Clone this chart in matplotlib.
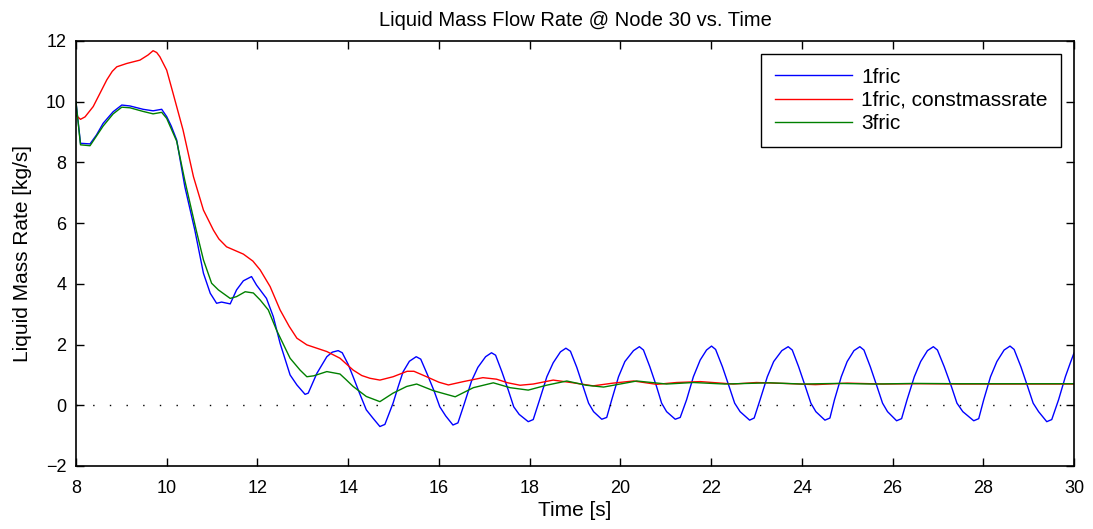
import matplotlib
matplotlib.use('Agg')
import matplotlib.pyplot as plt

plt.rcParams['font.family'] = ['Liberation Sans', 'DejaVu Sans']

# 1fric
t_blue = [8.0, 8.1, 8.31, 8.45, 8.6, 8.82, 9.01, 9.19, 9.48, 9.70, 9.89, 10.0, 10.1, 10.22, 10.4,
          10.62, 10.81, 10.96, 11.1, 11.21, 11.4, 11.54, 11.69, 11.87, 11.98, 12.2, 12.35, 12.5,
          12.72, 12.87, 13.05, 13.12, 13.31, 13.53, 13.65, 13.78, 13.87, 14.0, 14.11, 14.25, 14.4,
          14.55, 14.7, 14.81, 14.99, 15.1, 15.21, 15.35, 15.5, 15.6, 15.75, 15.9, 16.02, 16.15,
          16.31, 16.42, 16.56, 16.72, 16.86, 17.03, 17.16, 17.25, 17.39, 17.53, 17.65, 17.77,
          17.97, 18.08, 18.22, 18.38, 18.52, 18.68, 18.80, 18.90, 19.04, 19.18, 19.30, 19.41,
          19.59, 19.70, 19.81, 19.96, 20.10, 20.29, 20.42, 20.51, 20.65, 20.80, 20.91, 21.02,
          21.21, 21.32, 21.46, 21.61, 21.76, 21.90, 22.01, 22.10, 22.25, 22.40, 22.52, 22.64,
          22.85, 22.95, 23.08, 23.24, 23.38, 23.56, 23.70, 23.79, 23.93, 24.08, 24.20, 24.31,
          24.51, 24.62, 24.72, 24.87, 25.0, 25.15, 25.28, 25.37, 25.51, 25.66, 25.78, 25.89,
          26.09, 26.20, 26.32, 26.48, 26.62, 26.77, 26.90, 26.99, 27.14, 27.30, 27.42, 27.55,
          27.79, 27.90, 28.01, 28.16, 28.30, 28.46, 28.59, 28.68, 28.83, 28.98, 29.10, 29.22,
          29.40, 29.51, 29.66, 29.81, 29.92, 30.0]
v_blue = [10.0, 8.63, 8.61, 8.9, 9.29, 9.67, 9.89, 9.86, 9.75, 9.70, 9.75, 9.51, 9.2, 8.74, 7.2,
          5.77, 4.35, 3.69, 3.36, 3.40, 3.34, 3.80, 4.10, 4.24, 3.96, 3.52, 2.92, 2.04,
          1.0, 0.67, 0.36, 0.40, 1.05, 1.60, 1.75, 1.80, 1.73, 1.35, 0.94, 0.40, -0.15,
          -0.43, -0.70, -0.63, 0.07, 0.60, 1.10, 1.45, 1.60, 1.52, 1.00, 0.45, -0.05, -0.35,
          -0.65, -0.58, 0.05, 0.80, 1.25, 1.60, 1.73, 1.65, 1.10, 0.50, -0.05, -0.30,
          -0.54, -0.47, 0.18, 0.94, 1.40, 1.76, 1.88, 1.78, 1.25, 0.61, 0.07, -0.21,
          -0.46, -0.40, 0.18, 0.94, 1.44, 1.80, 1.93, 1.82, 1.27, 0.61, 0.07, -0.21,
          -0.46, -0.40, 0.18, 0.94, 1.49, 1.82, 1.95, 1.84, 1.27, 0.61, 0.07, -0.21,
          -0.49, -0.42, 0.18, 0.94, 1.44, 1.80, 1.93, 1.82, 1.27, 0.61, 0.07, -0.21,
          -0.49, -0.42, 0.18, 0.94, 1.44, 1.80, 1.93, 1.82, 1.27, 0.61, 0.07, -0.21,
          -0.51, -0.44, 0.18, 0.94, 1.44, 1.80, 1.93, 1.82, 1.27, 0.61, 0.07, -0.21,
          -0.51, -0.44, 0.18, 0.94, 1.44, 1.82, 1.95, 1.84, 1.27, 0.61, 0.07, -0.21,
          -0.54, -0.47, 0.18, 0.94, 1.40, 1.72]

# 1fric, constmassrate
t_red = [8.0, 8.1, 8.2, 8.38, 8.52, 8.68, 8.8, 8.9, 9.12, 9.41, 9.59, 9.70, 9.78, 9.85, 10.0, 10.14,
         10.36, 10.59, 10.81, 11.03, 11.15, 11.32, 11.69, 11.9, 12.06, 12.28, 12.5, 12.7, 12.87,
         13.09, 13.53, 13.82, 14.11, 14.3, 14.48, 14.7, 14.99, 15.3, 15.45, 15.73, 16.0, 16.21,
         16.54, 16.97, 17.27, 17.52, 17.79, 18.08, 18.52, 18.96, 19.4, 19.84, 20.29, 20.8, 21.24,
         21.76, 22.49, 23.0, 23.6, 24.3, 25.0, 25.8, 26.6, 27.5, 28.5, 30.0]
v_red = [9.55, 9.42, 9.5, 9.84, 10.25, 10.72, 11.0, 11.15, 11.26, 11.37, 11.54, 11.68, 11.62, 11.48,
         11.04, 10.28, 9.07, 7.53, 6.43, 5.77, 5.48, 5.22, 4.98, 4.75, 4.46, 3.91, 3.14, 2.60, 2.21,
         1.99, 1.77, 1.55, 1.16, 0.98, 0.89, 0.83, 0.94, 1.12, 1.12, 0.94, 0.76, 0.67,
         0.78, 0.91, 0.86, 0.74, 0.66, 0.70, 0.83, 0.74, 0.64, 0.73, 0.80, 0.69, 0.75,
         0.78, 0.70, 0.75, 0.72, 0.68, 0.73, 0.70, 0.71, 0.70, 0.70, 0.70]

# 3fric
t_green = [8.0, 8.1, 8.31, 8.6, 8.82, 9.01, 9.19, 9.48, 9.70, 9.89, 10.0, 10.22, 10.4, 10.65,
           10.81, 10.99, 11.14, 11.4, 11.54, 11.73, 11.91, 12.06, 12.24, 12.42, 12.72, 12.94, 13.09,
           13.24, 13.53, 13.82, 13.95, 14.11, 14.4, 14.7, 14.99, 15.29, 15.51, 15.88, 16.36, 16.76,
           17.2, 17.57, 17.97, 18.37, 18.82, 19.25, 19.63, 20.36, 21.02, 21.61, 22.3, 23.3, 24.0,
           24.8, 25.6, 26.5, 27.5, 30.0]
v_green = [10.0, 8.58, 8.55, 9.2, 9.6, 9.82, 9.80, 9.68, 9.60, 9.65, 9.45, 8.7, 7.4, 5.77,
           4.79, 4.02, 3.80, 3.52, 3.58, 3.74, 3.70, 3.47, 3.14, 2.48, 1.55, 1.16, 0.94,
           0.97, 1.11, 1.03, 0.85, 0.62, 0.29, 0.12, 0.40, 0.62, 0.70, 0.48, 0.28, 0.58,
           0.74, 0.58, 0.50, 0.66, 0.80, 0.66, 0.60, 0.80, 0.70, 0.75, 0.70, 0.74, 0.70,
           0.72, 0.70, 0.72, 0.71, 0.71]

x_ticks = [8, 10, 12, 14, 16, 18, 20, 22, 24, 26, 28, 30]
y_ticks = [-2, 0, 2, 4, 6, 8, 10, 12]
y_labels = ['\u22122', '0', '2', '4', '6', '8', '10', '12']

fig = plt.figure(figsize=(10.93, 5.29), dpi=100)
ax = fig.add_axes([0.0695, 0.1191, 0.9131, 0.8034])

ax.plot(t_blue, v_blue, color='#0000ff', lw=1.0, label='1fric')
ax.plot(t_red, v_red, color='#ff0000', lw=1.0, label='1fric, constmassrate')
ax.plot(t_green, v_green, color='#008000', lw=1.0, label='3fric')
ax.plot([8, 30], [0, 0], color='black', lw=1.0, linestyle=(0, (1, 11)))

ax.set_xlim(8, 30)
ax.set_ylim(-2, 12)
ax.set_xticks(x_ticks)
ax.set_yticks(y_ticks)
ax.set_yticklabels(y_labels)
ax.tick_params(direction='in', top=True, right=True, length=6, width=1, labelsize=13)
ax.tick_params(axis='x', pad=10)
ax.tick_params(axis='y', pad=7)
for s in ax.spines.values():
    s.set_linewidth(1.2)

ax.set_title('Liquid Mass Flow Rate @ Node 30 vs. Time', fontsize=14.5, pad=11)
ax.set_xlabel('Time [s]', fontsize=15, labelpad=3)
ax.set_ylabel('Liquid Mass Rate [kg/s]', fontsize=15, labelpad=10)

leg = ax.legend(loc='upper right', bbox_to_anchor=(0.987, 0.969), borderaxespad=0,
                fancybox=False, edgecolor='black', framealpha=1, fontsize=15,
                handlelength=3.7, handletextpad=0.45, labelspacing=0.2, borderpad=0.65)
leg.get_frame().set_linewidth(1.0)

fig.savefig('out.png', dpi=100)
